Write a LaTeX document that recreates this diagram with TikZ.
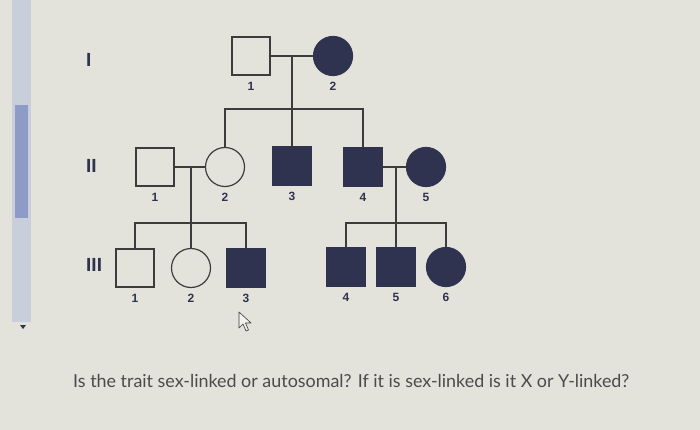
\documentclass[tikz,border=0pt]{standalone}
\usepackage{fontspec}
\setsansfont{Liberation Sans}
\newfontfamily\latofont{Lato}
\usetikzlibrary{positioning}

\definecolor{screenbg}{HTML}{E3E3DB}
\definecolor{ink}{HTML}{2F3350}
\definecolor{linegray}{HTML}{3C3C3C}
\definecolor{scrolltrack}{HTML}{C8CFDA}
\definecolor{scrollthumb}{HTML}{8C9CC6}
\definecolor{textgray}{HTML}{4B4B4B}

\begin{document}
\begin{tikzpicture}[
    x=1pt, y=-1pt,
    male/.style={rectangle, draw=linegray, line width=1.2pt, minimum size=38pt, inner sep=0pt},
    female/.style={circle, draw=linegray, line width=1.2pt, minimum size=39pt, inner sep=0pt},
    affected/.style={fill=ink, draw=ink},
    num/.style={font=\sffamily\bfseries\fontsize{12}{12}\selectfont, text=ink, inner sep=0pt, label distance=6pt},
    gen/.style={font=\sffamily\bfseries\fontsize{19}{19}\selectfont, text=ink, anchor=west, inner sep=0pt},
    link/.style={draw=linegray, line width=1.2pt}
]

% Screen background and scrollbar
\fill[screenbg] (0,0) rectangle (700,430);
\useasboundingbox (0,0) rectangle (700,430);
\fill[scrolltrack] (12,0) rectangle (31,322);
\fill[scrollthumb] (15,105) rectangle (28,218);
\fill[ink] (20,325) -- (26,325) -- (23,329) -- cycle;

% Generation labels
\node[gen] (genI) at (86,60) {I};
\node[gen] (genII) at (86,166) {II};
\node[gen] (genIII) at (86,265) {III};

% Generation I
\node[male, label={[num]below:1}] (I1) at (251,56) {};
\node[female, affected, label={[num]below:2}] (I2) at (333,56) {};

% Generation II
\node[male, label={[num]below:1}] (II1) at (155,167) {};
\node[female, label={[num]below:2}] (II2) at (225,167) {};
\node[male, affected, label={[num]below:3}] (II3) at (292,166) {};
\node[male, affected, label={[num]below:4}] (II4) at (363,167) {};
\node[female, affected, label={[num]below:5}] (II5) at (426,167) {};

% Generation III
\node[male, label={[num]below:1}] (III1) at (135,268) {};
\node[female, label={[num]below:2}] (III2) at (191,268) {};
\node[male, affected, label={[num]below:3}] (III3) at (246,268) {};
\node[male, affected, label={[num]below:4}] (III4) at (346,267) {};
\node[male, affected, label={[num]below:5}] (III5) at (396,267) {};
\node[female, affected, label={[num]below:6}] (III6) at (446,267) {};

% Couples and sibships
\coordinate (m1) at (292,56);
\coordinate (s1) at (292,109);
\coordinate (m2) at (191,167);
\coordinate (s2) at (191,223);
\coordinate (m3) at (396,167);
\coordinate (s3) at (396,223);

\draw[link] (I1.east) -- (I2.west);
\draw[link] (m1) -- (s1);
\draw[link] (II2.north) |- (s1) -| (II4.north);
\draw[link] (s1) -- (II3.north);

\draw[link] (II1.east) -- (II2.west);
\draw[link] (m2) -- (s2);
\draw[link] (III1.north) |- (s2) -| (III3.north);
\draw[link] (s2) -- (III2.north);

\draw[link] (II4.east) -- (II5.west);
\draw[link] (m3) -- (s3);
\draw[link] (III4.north) |- (s3) -| (III6.north);
\draw[link] (s3) -- (III5.north);

% Mouse pointer
\draw[linegray, fill=white!50!screenbg, line width=0.6pt, line join=round]
    (239,312) -- ++(0,16) -- ++(4,-4) -- ++(3,7) -- ++(2.5,-1) -- ++(-3,-7) -- ++(5.5,0) -- cycle;

% Question
\node[anchor=base west, inner sep=0pt, font=\latofont\fontsize{17.9}{18}\selectfont, text=textgray] (question) at (73,387)
    {Is the trait sex-linked or autosomal? If it is sex-linked is it X or Y-linked?};

\end{tikzpicture}
\end{document}
